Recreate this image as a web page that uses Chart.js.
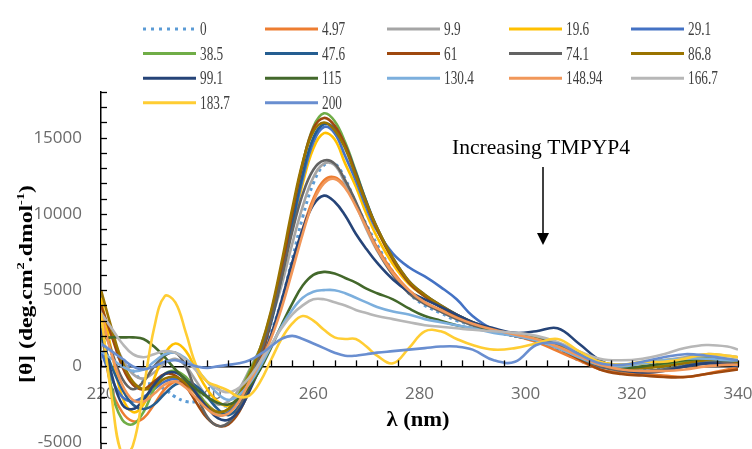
<!DOCTYPE html>
<html><head><meta charset="utf-8">
<script src="https://cdn.jsdelivr.net/npm/chart.js@4.4.1/dist/chart.umd.min.js"></script>
<style>html,body{margin:0;padding:0;background:#fff;}#wrap{position:relative;width:752px;height:449px;}</style>
</head><body><div id="wrap"><canvas id="c" width="752" height="449"></canvas></div>
<script>
// ---------- data ----------
const wavelengths = [220,222,224,226,228,230,232,234,236,238,
  240,242,244,246,248,250,252,254,256,258,
  260,262,264,266,268,270,272,275,278,281,
  284,287,290,294,298,302,306,310,314,318,
  322,326,330,334,338,340];

const seriesNames = ['0','4.97','9.9','19.6','29.1','38.5','47.6','61','74.1','86.8','99.1','115','130.4','148.94','166.7','183.7','200'];

const cd_0 = [1500,800,500,-300,-1000,-1200,-1500,-2000,-2300,-2300,
  -2000,-2400,-2600,-2000,-800,500,2200,4300,7000,9800,
  12000,13200,13300,12300,10700,9300,8000,6200,4800,4000,
  3500,3000,2700,2300,2000,1700,1100,400,-100,-200,
  -200,-100,100,300,300,300];
const cd_4_97 = [2500,-1500,-3000,-3600,-3400,-2500,-1500,-1000,-1200,-1800,
  -2500,-3000,-3000,-2200,-900,400,2000,4000,6500,9000,
  11000,12200,12400,11800,10600,9200,7800,6200,5000,4200,
  3700,3200,2800,2300,2000,1600,1000,400,-200,-400,
  -500,-600,-700,-500,-200,-100];
const cd_9_9 = [3800,2000,500,-500,-800,-400,200,500,0,-1000,
  -2000,-2500,-2300,-1500,-200,1200,3000,5300,8000,10500,
  12400,13300,13200,12000,10600,9000,7600,6000,4900,4200,
  3600,3100,2700,2300,2000,1700,1300,700,200,100,
  200,400,600,800,700,600];
const cd_19_6 = [4500,1000,-2000,-3000,-2500,-800,800,1500,1000,-300,
  -1500,-2300,-2600,-2000,-800,800,3000,5800,9000,12000,
  14300,15300,14900,13300,11800,10000,8500,6700,5400,4600,
  3900,3300,2800,2400,2100,1900,1500,900,300,100,
  200,400,500,600,500,400];
const cd_29_1 = [1000,-800,-2000,-2300,-2000,-1500,-1000,-800,-1000,-1700,
  -2600,-3200,-3000,-2000,-500,1000,3200,6000,9200,12300,
  14700,15700,15300,13800,12200,10400,8900,7400,6500,5900,
  5200,4400,3300,2400,2000,1800,1300,600,0,-200,
  -100,100,200,300,200,200];
const cd_38_5 = [3000,-1500,-3500,-3800,-3000,-1500,-500,-300,-700,-1600,
  -2500,-3000,-2800,-1800,-300,1200,3500,6500,10000,13300,
  15700,16600,16100,14700,12800,10800,9000,7000,5500,4600,
  3900,3300,2800,2300,2100,1900,1500,900,300,0,
  -100,100,300,500,400,300];
const cd_47_6 = [2000,0,-1500,-2500,-2800,-2500,-1800,-1200,-1000,-1300,
  -2000,-2800,-3200,-2600,-1200,500,2800,5800,9300,12600,
  15000,15900,15600,14500,12700,10800,9100,7100,5600,4700,
  4000,3400,2900,2300,2000,1800,1500,900,200,-200,
  -300,-200,0,200,300,300];
const cd_61 = [4000,2000,0,-1200,-1500,-1000,-500,-600,-1300,-2400,
  -3400,-3900,-3800,-3000,-1500,500,3000,6300,10000,13300,
  15600,16300,15800,14500,12600,10700,9000,7000,5500,4600,
  3900,3300,2800,2300,2000,1700,1200,500,-200,-500,
  -600,-700,-700,-500,-300,-200];
const cd_74_1 = [3000,1000,-800,-1500,-1000,0,700,900,0,-1800,
  -3300,-3900,-3700,-2700,-1100,800,3000,5800,8800,11300,
  12900,13500,13300,12200,10800,9200,7700,6000,4800,4100,
  3600,3100,2700,2300,2000,1700,1300,600,0,-300,
  -300,-200,0,200,200,200];
const cd_86_8 = [5000,2500,300,-1000,-1500,-1300,-800,-700,-1100,-1800,
  -2600,-3000,-2800,-1900,-500,1200,3600,6800,10300,13400,
  15400,16000,15500,14300,12500,10700,9100,7100,5600,4700,
  4000,3400,2900,2400,2100,1800,1400,800,200,-100,
  -100,0,200,400,400,300];
const cd_99_1 = [2500,-500,-2500,-2800,-2200,-1200,-500,-400,-900,-1800,
  -2700,-3400,-3500,-2900,-1600,0,2000,4300,6800,9000,
  10600,11200,10800,9900,8700,7700,6800,5700,4900,4400,
  3900,3400,2900,2500,2200,2300,2500,1500,400,-200,
  -400,-300,0,200,100,0];
const cd_115 = [1800,1900,1900,1900,1800,1300,600,-200,-900,-1500,
  -2000,-2400,-2500,-2100,-1300,-200,1200,2700,4100,5300,
  6000,6200,6100,5800,5500,5100,4800,4400,3800,3300,
  3000,2700,2500,2300,2100,1800,1300,600,100,-100,
  0,200,400,500,400,400];
const cd_130_4 = [1000,500,0,-300,-200,300,800,900,500,-200,
  -1000,-1800,-2200,-1900,-1100,0,1300,2600,3700,4500,
  4900,5000,5000,4800,4500,4200,3900,3600,3400,3100,
  2900,2700,2500,2200,2000,1700,1200,600,100,0,
  200,400,500,500,400,400];
const cd_148_94 = [3500,800,-1200,-2200,-2300,-1800,-1200,-1000,-1400,-2100,
  -2800,-3200,-3100,-2300,-1000,300,1800,3800,6200,8700,
  10800,12000,12300,11700,10500,9100,7700,6100,5000,4200,
  3700,3200,2800,2400,2100,1800,1300,700,100,-200,
  -300,-300,-200,0,100,100];
const cd_166_7 = [3500,2500,1500,800,600,800,1000,900,400,-300,
  -1000,-1500,-1700,-1400,-700,300,1400,2500,3400,4000,
  4400,4400,4200,4000,3700,3500,3300,3100,2900,2700,
  2600,2500,2400,2300,2200,2000,1600,1000,500,400,
  500,800,1200,1400,1300,1100];
const cd_183_7 = [3500,-2000,-5800,-5200,-1500,2500,4600,4200,2200,0,
  -1000,-1300,-1600,-2000,-1900,-1000,400,1800,2800,3300,
  3000,2400,1900,1800,1800,1300,700,200,1200,2300,
  2300,1800,1400,1100,1200,1500,1800,1000,300,100,
  300,300,500,800,700,600];
const cd_200 = [1500,1000,500,0,-200,0,300,400,200,0,
  -100,0,100,200,400,800,1300,1800,2000,1800,
  1500,1200,900,700,700,800,900,1000,1100,1200,
  1300,1300,1100,400,300,1400,1500,800,200,100,
  300,600,800,700,500,400];

const seriesValues = [cd_0,cd_4_97,cd_9_9,cd_19_6,cd_29_1,cd_38_5,cd_47_6,cd_61,cd_74_1,cd_86_8,
  cd_99_1,cd_115,cd_130_4,cd_148_94,cd_166_7,cd_183_7,cd_200];

const yTickValues = [-5000,0,5000,10000,15000];
const xTickValues = [220,240,260,280,300,320,340];

// ---------- styles ----------
const colors = ['#5B9BD5','#ED7D31','#A5A5A5','#FFC000','#4472C4','#70AD47','#255E91','#9E480E','#636363','#997300',
  '#264478','#43682B','#7CAFDD','#F1975A','#B7B7B7','#FFCD33','#698ED0'];

const datasets = seriesNames.map((name, i) => ({
  label: name,
  data: wavelengths.map((w, k) => ({x: w, y: seriesValues[i][k]})),
  borderColor: colors[i],
  backgroundColor: colors[i],
  borderWidth: i === 0 ? 3 : 2.6,
  borderDash: i === 0 ? [3, 4] : [],
  pointRadius: 0,
  tension: 0.4,
  fill: false,
  order: seriesNames.length - i,
  clip: {left: 0, top: 0, right: 0, bottom: 8}
}));

function scaledText(ctx, text, x, y, font, targetWidth, align) {
  ctx.save();
  ctx.font = font;
  const w = ctx.measureText(text).width;
  const s = targetWidth ? targetWidth / w : 1;
  ctx.translate(x, y);
  ctx.scale(s, 1);
  ctx.textBaseline = 'middle';
  ctx.textAlign = 'left';
  let dx = 0;
  if (align === 'center') dx = -w / 2;
  ctx.fillText(text, dx, 0);
  ctx.restore();
}

const decorPlugin = {
  id: 'decor',
  afterDraw(chart) {
    const ctx = chart.ctx;
    const xs = chart.scales.x, ys = chart.scales.y;
    const left = chart.chartArea.left;
    const y0 = ys.getPixelForValue(0);
    ctx.save();
    ctx.strokeStyle = '#000';
    ctx.lineWidth = 1.3;
    for (let v = -5000; v <= 18000; v += 1000) {
      const py = Math.round(ys.getPixelForValue(v)) + 0.5;
      ctx.beginPath(); ctx.moveTo(left, py); ctx.lineTo(left + 6, py); ctx.stroke();
    }
    for (let v = 220; v <= 340; v += 4) {
      const px = Math.round(xs.getPixelForValue(v)) + 0.5;
      ctx.beginPath(); ctx.moveTo(px, y0); ctx.lineTo(px, y0 - 6); ctx.stroke();
    }
    // y axis line continues to the bottom edge
    ctx.lineWidth = 1.5;
    ctx.beginPath(); ctx.moveTo(left, chart.chartArea.bottom); ctx.lineTo(left, chart.height); ctx.stroke();
    ctx.restore();

    // y-axis title (rotated)
    ctx.save();
    ctx.fillStyle = '#000';
    const segs = [['[θ] (deg.cm', false], ['2', true], ['.dmol', false], ['-1', true], [')', false]];
    const bigF = 'bold 18px "Liberation Serif"', supF = 'bold 11px "Liberation Serif"';
    let total = 0;
    segs.forEach(s => { ctx.font = s[1] ? supF : bigF; total += ctx.measureText(s[0]).width; });
    ctx.translate(27, 284);
    ctx.rotate(-Math.PI / 2);
    ctx.scale(198 / total, 1);
    ctx.textBaseline = 'middle';
    let cx = -total / 2;
    segs.forEach(s => {
      ctx.font = s[1] ? supF : bigF;
      ctx.fillText(s[0], cx, s[1] ? -6 : 0);
      cx += ctx.measureText(s[0]).width;
    });
    ctx.restore();

    ctx.save();
    ctx.fillStyle = '#000';
    scaledText(ctx, 'λ (nm)', 418, 421, 'bold 20px "Liberation Serif"', 63, 'center');
    scaledText(ctx, 'Increasing TMPYP4', 452, 148, '22px "Liberation Serif"', 178, 'left');
    ctx.strokeStyle = '#000';
    ctx.lineWidth = 1.5;
    ctx.beginPath(); ctx.moveTo(543, 167); ctx.lineTo(543, 236); ctx.stroke();
    ctx.beginPath(); ctx.moveTo(537, 233); ctx.lineTo(549, 233); ctx.lineTo(543, 245); ctx.closePath();
    ctx.fillStyle = '#000'; ctx.fill();
    ctx.restore();

    // legend
    ctx.save();
    chart.data.datasets.forEach((ds, i) => {
      const col = i % 5, row = Math.floor(i / 5);
      const lx = 143 + 122 * col, ly = 29 + 24.6 * row;
      ctx.strokeStyle = ds.borderColor;
      ctx.lineWidth = 3;
      ctx.setLineDash(i === 0 ? [3, 5] : []);
      ctx.beginPath(); ctx.moveTo(lx, ly); ctx.lineTo(lx + 53, ly); ctx.stroke();
      ctx.setLineDash([]);
      ctx.fillStyle = '#404040';
      ctx.save();
      ctx.font = '19.5px "Liberation Serif"';
      ctx.translate(lx + 57, ly + 1);
      ctx.scale(0.68, 1);
      ctx.textBaseline = 'middle';
      ctx.fillText(ds.label, 0, 0);
      ctx.restore();
    });
    ctx.restore();
  }
};

const tickFont = {family: '"Open Sans", "Liberation Sans", sans-serif', size: 17};

new Chart(document.getElementById('c'), {
  type: 'line',
  data: {datasets},
  options: {
    responsive: false,
    animation: false,
    devicePixelRatio: 1,
    layout: {padding: {top: 92, right: 14, bottom: 6.4, left: 0}},
    plugins: {legend: {display: false}, tooltip: {enabled: false}},
    scales: {
      x: {
        type: 'linear', min: 220, max: 340, position: {y: 0},
        afterBuildTicks: s => { s.ticks = xTickValues.map(v => ({value: v})); },
        afterFit: s => { s.height = 0; s.paddingLeft = 0; s.paddingRight = 0; },
        ticks: {font: tickFont, color: '#6b6b6b', padding: 18, maxRotation: 0, autoSkip: false,
                callback: v => String(v)},
        grid: {display: false, drawTicks: false},
        border: {display: true, color: '#000', width: 1.5}
      },
      y: {
        type: 'linear', min: -5000, max: 18000,
        afterBuildTicks: s => { s.ticks = yTickValues.map(v => ({value: v})); },
        ticks: {font: tickFont, color: '#6b6b6b', padding: 19, callback: v => String(v)},
        grid: {display: false, drawTicks: false},
        border: {display: true, color: '#000', width: 1.5},
        afterFit: s => { s.width = 101; s.paddingTop = 0; s.paddingBottom = 0; }
      }
    }
  },
  plugins: [decorPlugin]
});
</script></body></html>
